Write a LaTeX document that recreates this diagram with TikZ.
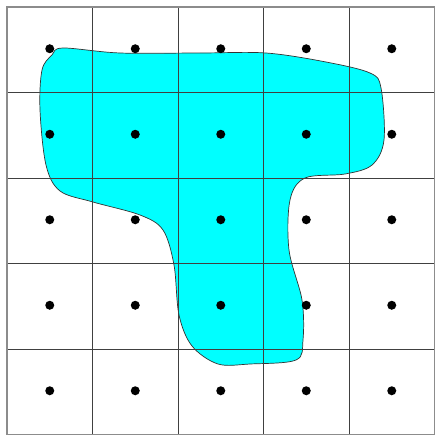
\documentclass[tikz,border=0pt]{standalone}
\usepackage{tikz}
\usetikzlibrary{calc}
\definecolor{regioncyan}{RGB}{0,255,255}

\begin{document}
\begin{tikzpicture}[
    x=1pt, y=-1pt,
    region/.style={fill=regioncyan, draw=black!80, line width=0.7pt},
    gridline/.style={draw=black!75, line width=1pt},
    border/.style={draw=black!45, line width=1.4pt},
    sample/.style={fill=black}
]
\useasboundingbox (0,0) rectangle (436,436);
% the region
\draw[region] plot[smooth cycle, tension=0.55] coordinates {
    (63,48) (120,53) (200,53) (266,53) (326,62) (370,73) (381,88)
    (384,140) (372,165) (345,174) (305,178) (290,200) (289,250)
    (302,300) (303,340) (296,360) (250,364) (218,364) (192,346)
    (179,315) (174,265) (163,230) (140,215) (93,202) (60,191)
    (46,165) (40,110) (42,70) (52,55)};
% grid
\foreach \i in {1,...,4} {
    \draw[gridline] (7+85.5*\i,7) -- (7+85.5*\i,434.5);
    \draw[gridline] (7,7+85.5*\i) -- (434.5,7+85.5*\i);
}
\draw[border] (7,7) rectangle (434.5,434.5);
% sample points
\foreach \i in {0,...,4}
    \foreach \j in {0,...,4}
        \fill[sample] (49.75+85.5*\i,48.75+85.5*\j) circle (4.5pt);
\end{tikzpicture}
\end{document}
